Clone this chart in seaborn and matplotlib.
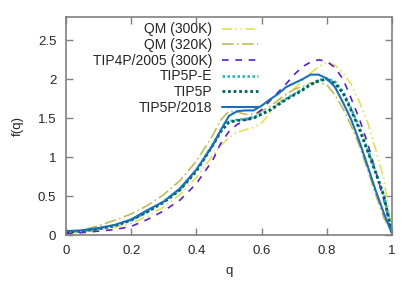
import numpy as np
import pandas as pd
import matplotlib
matplotlib.use("Agg")
import matplotlib.pyplot as plt
import seaborn as sns

# q grid and f(q) values
q = [0, .05, .1, .15, .2, .25, .3, .35, .4, .45, .475, .5, .525, .55, .575, .6, .625, .65,
     .675, .7, .725, .75, .775, .8, .825, .85, .875, .9, .925, .95, .975, 1.0]

qm_300 = [0.02, 0.03, 0.06, 0.10, 0.15, 0.24, 0.36, 0.52, 0.74, 1.02, 1.15, 1.25, 1.32, 1.35, 1.38, 1.44,
          1.56, 1.69, 1.80, 1.88, 1.98, 2.08, 2.16, 2.22, 2.18, 2.08, 1.93, 1.71, 1.45, 1.10, 0.72, 0.05]
qm_320 = [0.03, 0.06, 0.12, 0.19, 0.27, 0.38, 0.52, 0.70, 0.95, 1.28, 1.48, 1.59, 1.58, 1.55, 1.55, 1.59,
          1.65, 1.73, 1.81, 1.87, 1.91, 1.95, 1.96, 1.93, 1.80, 1.62, 1.40, 1.15, 0.84, 0.52, 0.22, 0.02]
tip4p_2005 = [0.02, 0.03, 0.05, 0.07, 0.11, 0.20, 0.31, 0.45, 0.66, 0.96, 1.18, 1.33, 1.42, 1.47, 1.53, 1.61,
              1.72, 1.83, 1.94, 2.06, 2.16, 2.22, 2.25, 2.23, 2.15, 2.00, 1.75, 1.49, 1.18, 0.82, 0.45, 0.02]
tip5p_e = [0.04, 0.05, 0.08, 0.12, 0.19, 0.30, 0.43, 0.59, 0.83, 1.16, 1.34, 1.46, 1.48, 1.49, 1.51, 1.56,
           1.61, 1.68, 1.75, 1.81, 1.87, 1.94, 1.99, 2.01, 1.97, 1.84, 1.62, 1.38, 1.10, 0.81, 0.51, 0.02]
tip5p = [0.04, 0.05, 0.08, 0.12, 0.19, 0.30, 0.42, 0.58, 0.82, 1.15, 1.33, 1.45, 1.47, 1.48, 1.50, 1.55,
         1.60, 1.67, 1.74, 1.80, 1.86, 1.93, 1.98, 2.00, 1.95, 1.82, 1.60, 1.36, 1.08, 0.80, 0.50, 0.02]
tip5p_2018 = [0.05, 0.06, 0.09, 0.13, 0.20, 0.32, 0.43, 0.60, 0.84, 1.15, 1.35, 1.53, 1.59, 1.60, 1.60, 1.66,
              1.74, 1.81, 1.90, 1.95, 2.00, 2.06, 2.06, 2.01, 1.90, 1.70, 1.48, 1.20, 0.89, 0.57, 0.28, 0.02]

labels = ["QM (300K)", "QM (320K)", "TIP4P/2005 (300K)", "TIP5P-E", "TIP5P", "TIP5P/2018"]
series = [qm_300, qm_320, tip4p_2005, tip5p_e, tip5p, tip5p_2018]

colors = ["#e4de5c", "#bfbb5e", "#5b1fc8", "#1fb0b0", "#005f5f", "#1a6fb5"]
styles = [(0, (6, 2, 1, 2, 1, 2)), (0, (7, 2, 1, 2)), (0, (4, 4)), (0, (1, 1)), (0, (1, 1)), "-"]
widths = [1.2, 1.2, 1.2, 1.8, 2.0, 1.5]

df = pd.DataFrame({
    "q": np.tile(q, len(labels)),
    "f": np.concatenate(series),
    "model": np.repeat(labels, len(q)),
})

sns.set_style("ticks")
plt.rcParams["font.family"] = ["Liberation Sans", "DejaVu Sans"]

fig = plt.figure(figsize=(4.15, 2.83), dpi=100)
ax = fig.add_axes([66 / 415, 48 / 283, 326 / 415, 218 / 283])

for lab, col, ls, lw in zip(labels, colors, styles, widths):
    sns.lineplot(data=df[df["model"] == lab], x="q", y="f", ax=ax, color=col,
                 linestyle=ls, linewidth=lw, label=lab)

ax.set_xlim(0, 1)
ax.set_ylim(0, 2.8)
ax.set_xticks([0, 0.2, 0.4, 0.6, 0.8, 1])
ax.set_xticklabels(["0", "0.2", "0.4", "0.6", "0.8", "1"])
ax.set_yticks([0, 0.5, 1, 1.5, 2, 2.5])
ax.set_yticklabels(["0", "0.5", "1", "1.5", "2", "2.5"])
ax.tick_params(direction="in", top=True, right=True, length=5, width=1,
               color="#808080", labelsize=9.5, pad=7)
for sp in ax.spines.values():
    sp.set_color("#808080")
    sp.set_linewidth(1.2)
ax.set_xlabel("q", fontsize=9.5, labelpad=6)
ax.set_ylabel("f(q)", fontsize=9.5, labelpad=10)

leg = ax.legend(loc="upper right", bbox_to_anchor=(0.589, 0.975), frameon=False,
                markerfirst=False, fontsize=10, labelspacing=0.12, borderpad=0,
                handlelength=2.6, handletextpad=0.7, borderaxespad=0)
for t in leg.get_texts():
    t.set_ha("right")

fig.savefig("out.png", dpi=100)
